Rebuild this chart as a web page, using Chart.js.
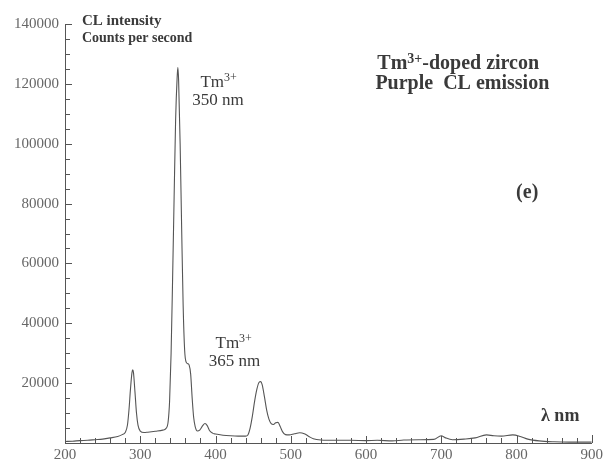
<!DOCTYPE html>
<html>
<head>
<meta charset="utf-8">
<script src="https://cdn.jsdelivr.net/npm/chart.js@4/dist/chart.umd.min.js"></script>
<style>
  body { margin: 0; background: #fff; }
  canvas { display: block; }
</style>
</head>
<body>
<canvas id="plot" width="606" height="462"></canvas>
<script>
// wavelength (nm) and CL intensity (counts per second)
const wavelengths = [200, 210, 220, 230, 240, 250, 260, 270, 276, 280, 283, 285, 287, 289, 290, 291, 293, 295, 297, 300,
  305, 310, 320, 330, 334, 337, 339, 341, 343, 345, 347, 349, 350, 351, 353, 355, 357, 359, 361, 363,
  365, 367, 369, 371, 373, 376, 379, 383, 386, 389, 392, 396, 400, 410, 420, 430, 440, 443, 446, 449,
  452, 455, 458, 460, 462, 465, 468, 471, 474, 477, 480, 483, 486, 489, 493, 498, 505, 512, 518, 524,
  530, 540, 560, 580, 600, 615, 635, 650, 670, 690, 700, 705, 715, 730, 745, 760, 770, 780, 795, 805,
  815, 830, 850, 870, 900];
const counts = [500, 600, 800, 900, 1100, 1300, 1700, 2200, 2800, 3500, 6000, 11000, 18000, 23500, 24500, 23500, 17000, 10000, 6000, 4000,
  3500, 3600, 3900, 4300, 4800, 7000, 14000, 30000, 55000, 82000, 108000, 122000, 125500, 121000, 100000, 72000, 46000, 31000, 27000, 26500,
  26000, 23000, 15000, 8500, 5500, 4000, 4300, 5800, 6500, 5800, 4200, 3300, 3000, 2600, 2400, 2300, 2300, 2700, 5000, 9000,
  14000, 18000, 20300, 20500, 19500, 15500, 11000, 8000, 6500, 6200, 6800, 6900, 5500, 3800, 2800, 2700, 3100, 3400, 3100, 2200,
  1400, 1000, 900, 900, 800, 900, 700, 1000, 1100, 1200, 2400, 1800, 1100, 1300, 1700, 2700, 2400, 2300, 2700, 2200,
  1300, 700, 400, 300, 300];

const xTicks = [200, 300, 400, 500, 600, 700, 800, 900];
const yTicks = [20000, 40000, 60000, 80000, 100000, 120000, 140000];

// texto no gráfico (posição em coordenadas dos dados)
const notas = [
  { parts: [["CL intensity", 0]], nm: 222.5, val: 139700, font: "bold 15px 'Liberation Serif'" },
  { parts: [["Counts per second", 0]], nm: 222.5, val: 134000, font: "bold 14px 'Liberation Serif'" },
  { parts: [["Tm", 0], ["3+", 1]], nm: 380, val: 119000, font: "17px 'Liberation Serif'" },
  { parts: [["350 nm", 0]], nm: 369, val: 113000, font: "17px 'Liberation Serif'" },
  { parts: [["Tm", 0], ["3+", 1]], nm: 400, val: 31700, font: "17px 'Liberation Serif'" },
  { parts: [["365 nm", 0]], nm: 391, val: 25700, font: "17px 'Liberation Serif'" },
  { parts: [["Tm", 0], ["3+", 1], ["-doped zircon", 0]], nm: 615, val: 125000, font: "bold 20px 'Liberation Serif'" },
  { parts: [["Purple  CL emission", 0]], nm: 612.5, val: 118300, font: "bold 20px 'Liberation Serif'" },
  { parts: [["(e)", 0]], nm: 799.5, val: 81900, font: "bold 20px 'Liberation Serif'" },
  { parts: [["λ nm", 0]], nm: 832.6, val: 7350, font: "bold 18px 'Liberation Serif'" },
];

const pontos = wavelengths.map((w, i) => ({ x: w, y: counts[i] }));

// marcas de escala para dentro do gráfico
const marcasPlugin = {
  id: "marcas",
  afterDraw(chart) {
    const ctx = chart.ctx;
    const x = chart.scales.x;
    const y = chart.scales.y;
    ctx.save();
    ctx.strokeStyle = "#555";
    ctx.lineWidth = 1;
    ctx.beginPath();
    for (let v = 5000; v <= 140000; v += 5000) {
      const py = Math.round(y.getPixelForValue(v)) + 0.5;
      const len = v % 20000 === 0 ? 7 : 5;
      ctx.moveTo(x.left, py);
      ctx.lineTo(x.left + len, py);
    }
    for (let w = 220; w < 900; w += 20) {
      const px = Math.round(x.getPixelForValue(w)) + 0.5;
      const len = w % 100 === 0 ? 7 : 5;
      ctx.moveTo(px, y.bottom);
      ctx.lineTo(px, y.bottom - len);
    }
    const pEnd = Math.round(x.getPixelForValue(900)) + 0.5;
    ctx.moveTo(pEnd, y.bottom);
    ctx.lineTo(pEnd, y.bottom - 8);
    ctx.stroke();
    ctx.restore();
  },
};

const textoPlugin = {
  id: "texto",
  afterDraw(chart) {
    const ctx = chart.ctx;
    const x = chart.scales.x;
    const y = chart.scales.y;
    ctx.save();
    ctx.fillStyle = "#3a3a3a";
    ctx.textBaseline = "alphabetic";
    ctx.textAlign = "left";
    notas.forEach((n) => {
      let px = x.getPixelForValue(n.nm);
      const py = y.getPixelForValue(n.val);
      n.parts.forEach(([txt, sup]) => {
        if (sup) {
          ctx.font = n.font.replace(/\d+px/, (m) => Math.round(parseInt(m) * 0.68) + "px");
          ctx.fillText(txt, px, py - 6);
        } else {
          ctx.font = n.font;
          ctx.fillText(txt, px, py);
        }
        px += ctx.measureText(txt).width;
      });
    });
    ctx.restore();
  },
};

const grafico = new Chart(document.getElementById("plot"), {
  type: "line",
  data: {
    datasets: [
      {
        label: "CL intensity",
        data: pontos,
        borderColor: "#555",
        borderWidth: 1.1,
        pointRadius: 0,
        fill: false,
        cubicInterpolationMode: "monotone",
      },
    ],
  },
  options: {
    responsive: false,
    animation: false,
    layout: { padding: { top: 24, right: 13, left: 0, bottom: 0 } },
    plugins: { legend: { display: false }, tooltip: { enabled: false } },
    scales: {
      x: {
        type: "linear",
        min: 200,
        max: 900,
        afterBuildTicks: (s) => { s.ticks = xTicks.map((v) => ({ value: v })); },
        afterFit: (s) => { s.height = 19; },
        grid: { display: false, drawTicks: false },
        border: { display: true, color: "#555", width: 1 },
        ticks: {
          color: "#666",
          padding: 3,
          maxRotation: 0,
          font: { family: "'Liberation Serif'", size: 15 },
          callback: (v) => String(v),
        },
      },
      y: {
        min: 0,
        max: 140000,
        afterBuildTicks: (s) => { s.ticks = yTicks.map((v) => ({ value: v })); },
        afterFit: (s) => { s.width = 65; },
        grid: { display: false, drawTicks: false },
        border: { display: true, color: "#555", width: 1 },
        ticks: {
          color: "#666",
          padding: 6,
          font: { family: "'Liberation Serif'", size: 15 },
          callback: (v) => String(v),
        },
      },
    },
  },
  plugins: [marcasPlugin, textoPlugin],
});
</script>
</body>
</html>
